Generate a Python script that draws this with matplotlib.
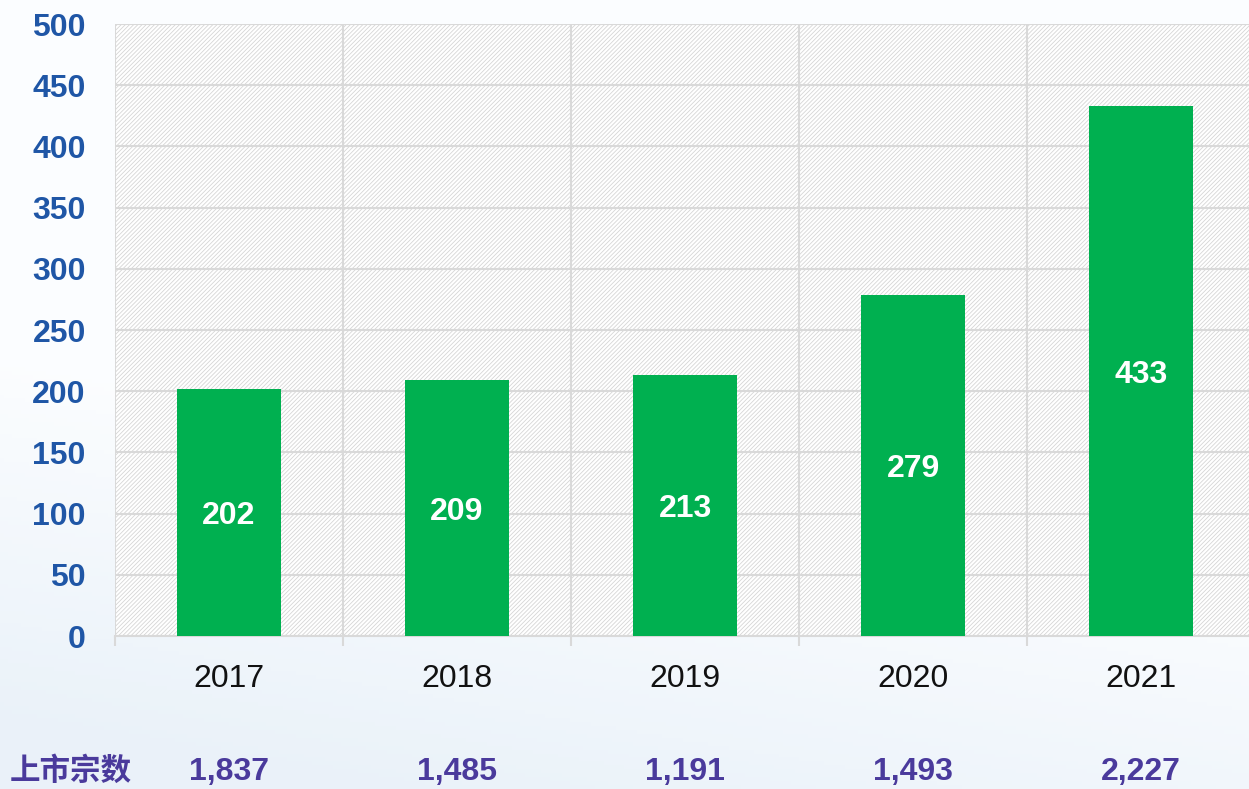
import numpy as np
import matplotlib.pyplot as plt
from matplotlib.patches import Rectangle
from matplotlib.transforms import blended_transform_factory

years = ['2017', '2018', '2019', '2020', '2021']
listings = [202, 209, 213, 279, 433]
row_label = '上市宗数'
row_values = ['1,837', '1,485', '1,191', '1,493', '2,227']

plt.rcParams['font.family'] = ['Liberation Sans', 'Noto Sans CJK SC', 'DejaVu Sans']
plt.rcParams['hatch.color'] = '#d6d6d6'
plt.rcParams['hatch.linewidth'] = 0.6

green = '#00b050'
blue = '#1f56a6'
purple = '#4a3a9c'
grid_col = '#d9d9d9'

fig = plt.figure(figsize=(12.49, 7.89), dpi=100)

# faint blue background wash, strongest in the lower left
bg = fig.add_axes([0, 0, 1, 1], zorder=0)
yy, xx = np.mgrid[0:1:200j, 0:1:300j]
wash = np.clip(2.2 * yy + 0.6 * xx - 0.2, 0, 1)
bg.imshow(wash, cmap='Blues_r', vmin=-3.5, vmax=1, extent=[0, 1, 0, 1],
          aspect='auto', origin='lower', alpha=0.4)
bg.set_xlim(0, 1)
bg.set_ylim(0, 1)
bg.axis('off')

ax = fig.add_axes([115 / 1249, 1 - 636 / 789, 1140 / 1249, 612 / 789], zorder=1)
ax.set_facecolor('white')
ax.add_patch(Rectangle((0, 0), 1, 1, transform=ax.transAxes, facecolor='white',
                       edgecolor='#d6d6d6', hatch='////////', linewidth=0, zorder=0))

x = np.arange(len(years))
bars = ax.bar(x, listings, width=0.46, color=green, zorder=3)
for b, v in zip(bars, listings):
    ax.text(b.get_x() + b.get_width() / 2, v / 2, str(v), ha='center',
            va='center_baseline', color='white', fontsize=23, fontweight='bold',
            zorder=4)

ax.set_xlim(-0.5, len(years) - 0.5)
ax.set_ylim(0, 500)
ax.set_yticks(np.arange(0, 501, 50))
ax.tick_params(axis='y', length=0, pad=21, labelsize=23, labelcolor=blue)
for t in ax.get_yticklabels():
    t.set_fontweight('bold')
ax.yaxis.grid(True, color=grid_col, linewidth=1.5, zorder=1)

ax.set_xticks(x)
ax.set_xticklabels(years)
ax.tick_params(axis='x', length=0, pad=20, labelsize=23, labelcolor='#111111')
ax.set_xticks(np.arange(-0.5, len(years)), minor=True)
ax.tick_params(axis='x', which='minor', length=7, width=1.5, color=grid_col)
ax.xaxis.grid(True, which='minor', color=grid_col, linewidth=1.5, zorder=1)
ax.set_axisbelow(True)

for s in ['top', 'right', 'left']:
    ax.spines[s].set_visible(False)
ax.spines['bottom'].set_color(grid_col)
ax.spines['bottom'].set_linewidth(1.5)

tr = blended_transform_factory(ax.transData, fig.transFigure)
for xi, val in zip(x, row_values):
    ax.text(xi, 1 - 772 / 789, val, transform=tr, ha='center', va='center',
            color=purple, fontsize=23, fontweight='bold', clip_on=False)
fig.text(10 / 1249, 1 - 772 / 789, row_label, ha='left', va='center',
         color=purple, fontsize=22, fontweight='bold')

fig.savefig('out.png', dpi=100)
